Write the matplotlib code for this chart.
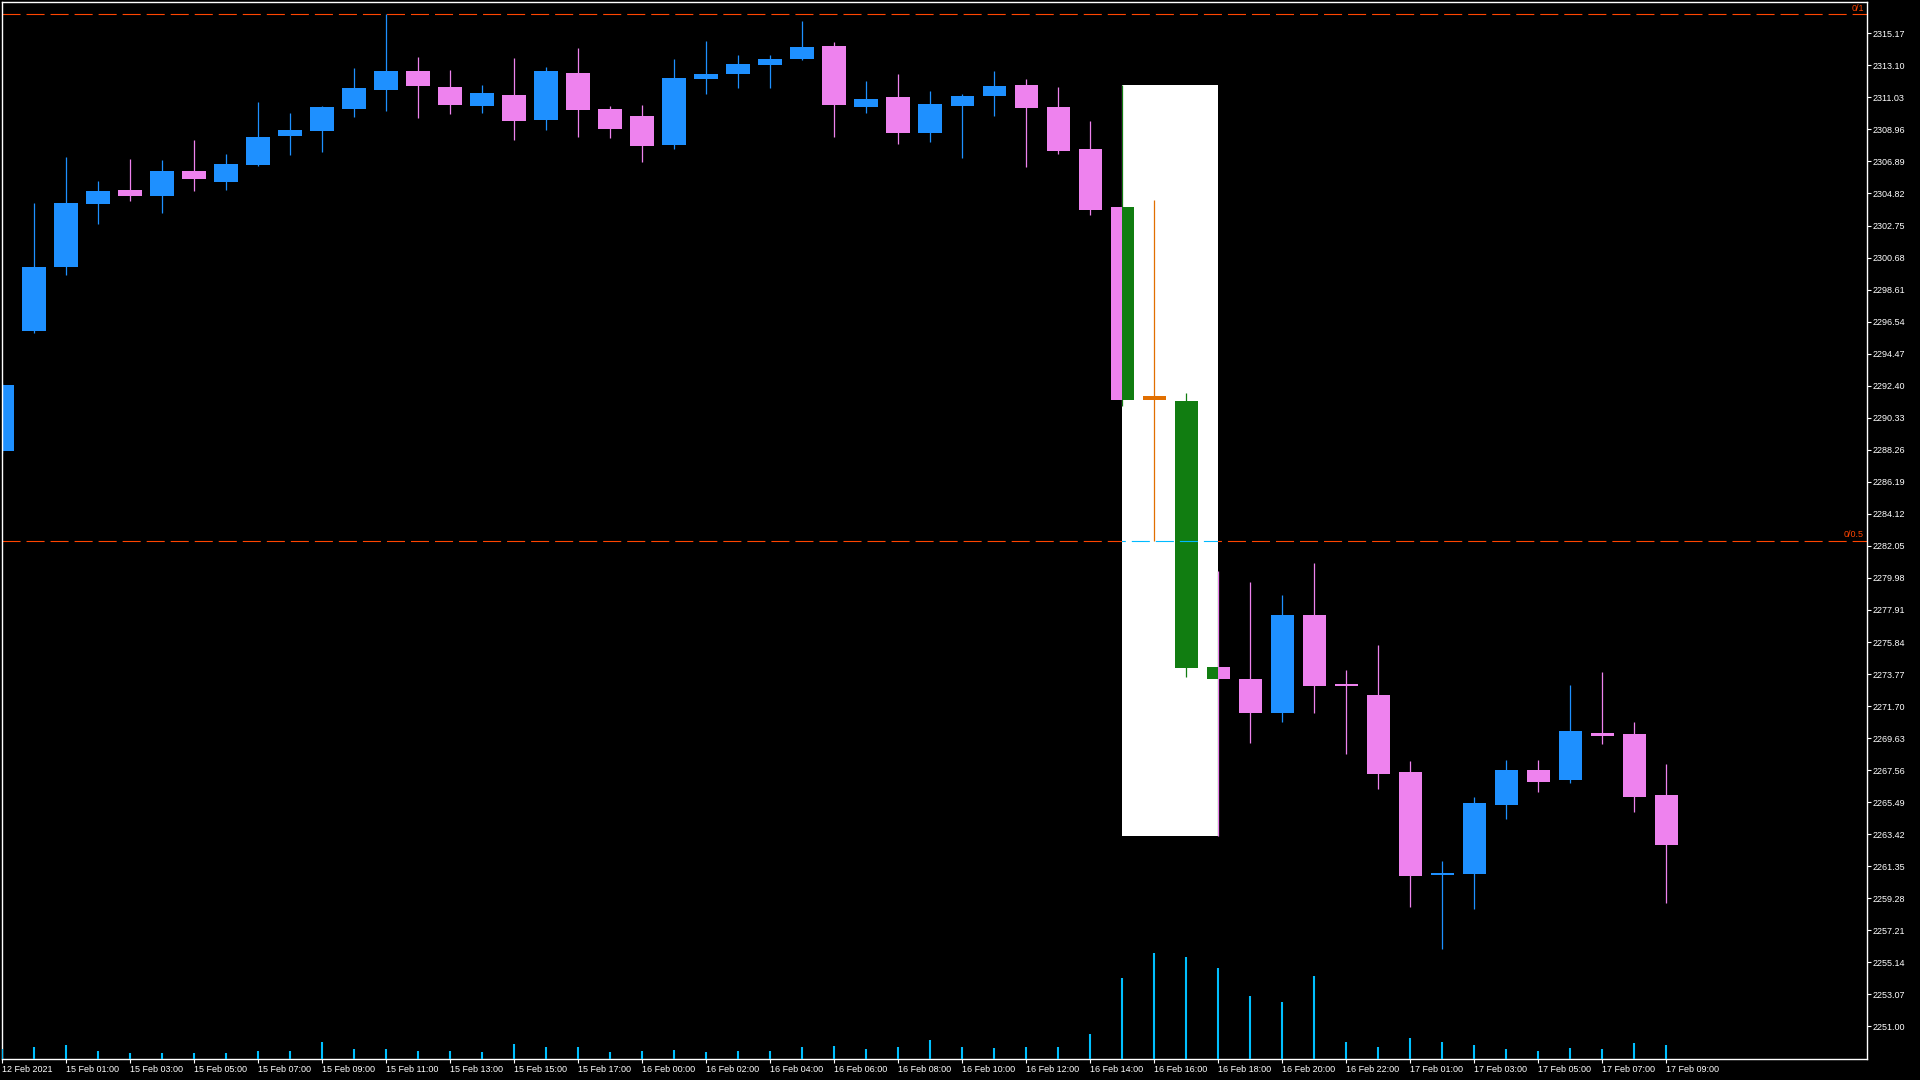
import numpy as np
import matplotlib.pyplot as plt
from matplotlib.patches import Rectangle
from matplotlib.transforms import blended_transform_factory

plt.rcParams['font.family'] = ['Liberation Sans', 'DejaVu Sans']
plt.rcParams['lines.scale_dashes'] = False

# hourly XAUUSD bars, 12 Feb 2021 23:00 .. 17 Feb 09:00
opens = [2288.21, 2295.94, 2300.07, 2304.14, 2305.05, 2304.66, 2306.27, 2305.56, 2306.66, 2308.54,
         2308.86, 2310.28, 2311.51, 2312.74, 2311.70, 2310.47, 2311.19, 2309.57, 2312.61, 2310.28,
         2309.83, 2307.95, 2312.22, 2312.54, 2313.12, 2313.51, 2314.35, 2310.41, 2311.06, 2308.73,
         2310.47, 2311.12, 2311.83, 2310.41, 2307.70, 2303.97, 2291.47, 2291.40, 2274.21, 2273.45,
         2271.26, 2277.59, 2273.13, 2272.42, 2267.44, 2260.78, 2260.85, 2265.31, 2267.57, 2266.93,
         2269.96, 2269.90, 2265.96]
highs = [2292.60, 2304.21, 2307.18, 2305.63, 2307.05, 2306.99, 2308.28, 2307.37, 2310.73, 2310.02,
         2310.47, 2312.93, 2316.42, 2313.64, 2312.80, 2311.83, 2313.58, 2312.99, 2314.22, 2310.47,
         2310.54, 2313.51, 2314.67, 2313.77, 2313.77, 2315.97, 2314.61, 2312.09, 2312.54, 2311.44,
         2311.25, 2312.74, 2312.22, 2311.70, 2309.51, 2311.84, 2304.38, 2291.93, 2280.43, 2279.72,
         2278.88, 2280.95, 2274.03, 2275.65, 2268.16, 2261.69, 2265.83, 2268.22, 2268.22, 2273.07,
         2273.91, 2270.68, 2267.96]
lows = [2288.05, 2295.83, 2299.56, 2302.85, 2304.34, 2303.56, 2304.98, 2305.05, 2306.60, 2307.31,
        2307.50, 2309.76, 2310.15, 2309.70, 2309.96, 2310.02, 2308.28, 2308.92, 2308.47, 2308.41,
        2306.86, 2307.70, 2311.25, 2311.64, 2311.64, 2313.45, 2308.47, 2310.02, 2308.02, 2308.15,
        2307.11, 2309.83, 2306.53, 2307.37, 2303.43, 2291.07, 2282.37, 2273.55, 2263.29, 2269.32,
        2270.68, 2271.26, 2268.61, 2266.35, 2258.72, 2256.01, 2258.59, 2264.41, 2266.15, 2266.73,
        2269.25, 2264.86, 2258.98]
closes = [2292.45, 2300.07, 2304.21, 2304.98, 2304.66, 2306.27, 2305.76, 2306.73, 2308.47, 2308.92,
          2310.41, 2311.64, 2312.74, 2311.77, 2310.54, 2311.31, 2309.51, 2312.74, 2310.22, 2308.99,
          2307.89, 2312.28, 2312.54, 2313.19, 2313.51, 2314.29, 2310.54, 2310.93, 2308.73, 2310.60,
          2311.12, 2311.77, 2310.35, 2307.57, 2303.75, 2291.48, 2291.73, 2274.17, 2273.47, 2271.26,
          2277.59, 2273.00, 2273.00, 2267.32, 2260.73, 2260.92, 2265.44, 2267.57, 2266.80, 2270.09,
          2269.77, 2265.83, 2262.73]
volumes = [200, 240, 280, 160, 120, 120, 120, 120, 160, 160,
           340, 200, 200, 160, 160, 140, 300, 240, 240, 140,
           160, 180, 140, 160, 160, 240, 260, 200, 240, 380,
           240, 220, 240, 240, 510, 1620, 2120, 2040, 1820, 1260,
           1140, 1660, 340, 240, 420, 340, 280, 200, 160, 220,
           200, 320, 280]
time_labels = ['12 Feb 2021', '15 Feb 01:00', '15 Feb 03:00', '15 Feb 05:00', '15 Feb 07:00',
               '15 Feb 09:00', '15 Feb 11:00', '15 Feb 13:00', '15 Feb 15:00', '15 Feb 17:00',
               '16 Feb 00:00', '16 Feb 02:00', '16 Feb 04:00', '16 Feb 06:00', '16 Feb 08:00',
               '16 Feb 10:00', '16 Feb 12:00', '16 Feb 14:00', '16 Feb 16:00', '16 Feb 18:00',
               '16 Feb 20:00', '16 Feb 22:00', '17 Feb 01:00', '17 Feb 03:00', '17 Feb 05:00',
               '17 Feb 07:00', '17 Feb 09:00']
price_ticks = np.round(2251.00 + 2.07 * np.arange(32), 2)
fib_high = 2316.40
fib_low = 2248.34
box_start = 35
box_end = 38

bull = '#1E90FF'
bear = '#EE82EE'
bull_inv = '#E16F00'
bear_inv = '#117D11'
fib_col = '#FF4500'
fib_inv = '#00BAFF'
vol_col = '#00BFFF'

o = np.array(opens)
h = np.array(highs)
l = np.array(lows)
c = np.array(closes)
x = np.arange(len(o))

fig = plt.figure(figsize=(19.2, 10.8), dpi=100, facecolor='black')
ax = fig.add_axes([2 / 1920, 21 / 1080, 1865 / 1920, 1057 / 1080])
ax.set_facecolor('black')

# volumes sit on their own scale at the bottom of the price window
ax2 = ax.twinx()
ax2.vlines(x, 0, volumes, colors=vol_col, linewidth=1.5)
ax2.set_ylim(0, 1057 * 20)
ax2.axis('off')


def candles(up_col, down_col, z, clip=None):
    cols = np.where(c >= o, up_col, down_col)
    body_lo = np.minimum(o, c)
    body_h = np.maximum(np.abs(c - o), 0.12)
    wicks = ax.vlines(x, l, h, colors=cols, linewidth=0.9, zorder=z)
    bars = ax.bar(x, body_h, 0.72, bottom=body_lo, color=cols, linewidth=0, zorder=z)
    if clip is not None:
        wicks.set_clip_path(clip)
        for p in bars.patches:
            p.set_clip_path(clip)


candles(bull, bear, 2)

fib_mid = fib_low + 0.5 * (fib_high - fib_low)
for lvl in [fib_high, fib_mid]:
    ax.axhline(lvl, color=fib_col, linewidth=0.8, dashes=(13, 4.3), zorder=2.5)

# rectangle object drawn in xor mode -> colours inside it are inverted
box = Rectangle((box_start, lows[box_end]), box_end - box_start, highs[box_start] - lows[box_end],
                facecolor='white', edgecolor='none', zorder=3)
ax.add_patch(box)
candles(bull_inv, bear_inv, 4, clip=box)
inv_line = ax.axhline(fib_mid, color=fib_inv, linewidth=0.8, dashes=(13, 4.3), zorder=4)
inv_line.set_clip_path(box)

tr = blended_transform_factory(ax.transAxes, ax.transData)
ax.text(1 - 3 / 1865, fib_high + 0.1, '0/1', transform=tr, ha='right', va='bottom',
        color=fib_col, fontsize=6.5)
ax.text(1 - 3 / 1865, fib_mid + 0.1, '0/0.5', transform=tr, ha='right', va='bottom',
        color=fib_col, fontsize=6.5)

ax.set_xlim(0, 58.28)
ax.set_ylim(2248.90, 2317.19)

ax.yaxis.tick_right()
ax.set_yticks(price_ticks)
ax.set_yticklabels([f'{v:.2f}' for v in price_ticks])
ax.tick_params(axis='y', colors='white', length=3, width=0.8, pad=1, labelsize=6.5)
ax.set_xticks(x[::2])
ax.set_xticklabels(time_labels, ha='left')
ax.tick_params(axis='x', colors='white', length=3, width=0.8, pad=1.5, labelsize=6.5)
for s in ax.spines.values():
    s.set_color('white')
    s.set_linewidth(1)

fig.savefig('out.png', dpi=100, facecolor='black')
